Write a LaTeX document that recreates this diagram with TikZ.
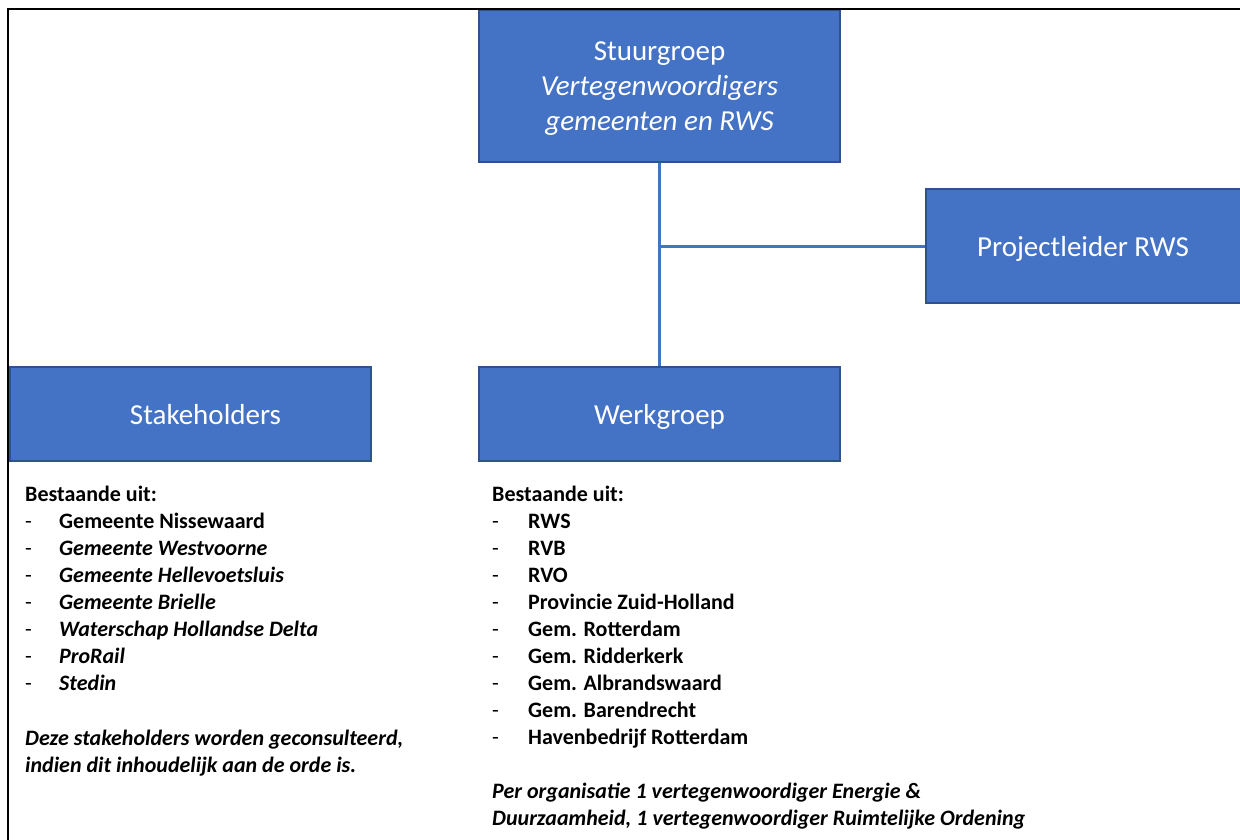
\documentclass[tikz,border=0pt]{standalone}
\usepackage{fontspec}
\setmainfont{Carlito}
\usepackage[rgb]{xcolor}
\usepackage{tikz}

\definecolor{rwsblue}{HTML}{4472C4}
\definecolor{rwsedge}{HTML}{2F528F}
\newcommand{\streep}{\makebox[34pt][l]{\mdseries -}}
\newcommand{\streepw}{\makebox[36pt][l]{\mdseries -}}

\begin{document}
\begin{tikzpicture}[x=1pt, y=-1pt,
  blok/.style={draw=rwsedge, fill=rwsblue, line width=1.5pt, text=white,
    inner sep=0pt, align=center, text depth=0pt,
    font=\fontsize{29}{35}\selectfont},
  lijn/.style={draw=rwsblue, line width=3pt},
  lijst/.style={anchor=north west, inner sep=0pt, align=left,
    font=\fontsize{22}{27}\selectfont\bfseries}]

\useasboundingbox[fill=white] (0,0) rectangle (1240,839);

% Stuurgroep and projectleider
\path
(659.5,86) node[blok, text depth=-2pt, minimum width=361pt, minimum height=152pt] (stuur)
  {Stuurgroep\\ \textit{Vertegenwoordigers}\\ \textit{gemeenten en RWS}}
(1085,246) node[blok, minimum width=318pt, minimum height=114pt] (proj)
  {\hspace*{-4pt}Projectleider RWS};

% Stakeholders and werkgroep
\path
(190.5,414) node[blok, minimum width=361pt, minimum height=94pt] (stake)
  {\hspace*{30pt}Stakeholders}
(659.5,414) node[blok, minimum width=361pt, minimum height=94pt] (werk)
  {Werkgroep};

% connectors
\coordinate (knik) at (stuur.south |- proj.west);
\draw[lijn] (stuur.south) -- (werk.north);
\draw[lijn] (knik) -- (proj.west);

% lists under the boxes
\node[lijst] (stakelijst) at (25,486) {Bestaande uit:\\
  \streep Gemeente Nissewaard\\
  \streep\textit{Gemeente Westvoorne}\\
  \streep\textit{Gemeente Hellevoetsluis}\\
  \streep\textit{Gemeente Brielle}\\
  \streep\textit{Waterschap Hollandse Delta}\\
  \streep\textit{ProRail}\\
  \streep\textit{Stedin}\\[28pt]
  \textit{Deze stakeholders worden geconsulteerd,}\\
  \textit{indien dit inhoudelijk aan de orde is.}};

\node[lijst] (werklijst) at (492,486) {Bestaande uit:\\
  \streepw RWS\\
  \streepw RVB\\
  \streepw RVO\\
  \streepw Provincie Zuid-Holland\\
  \streepw Gem. Rotterdam\\
  \streepw Gem. Ridderkerk\\
  \streepw Gem. Albrandswaard\\
  \streepw Gem. Barendrecht\\
  \streepw Havenbedrijf Rotterdam\\[27pt]
  \textit{Per organisatie 1 vertegenwoordiger Energie \&}\\
  \textit{Duurzaamheid, 1 vertegenwoordiger Ruimtelijke Ordening}};

% frame
\draw[line width=2.5pt] (8,845) -- (8,9) -- (1245,9);

\end{tikzpicture}
\end{document}
